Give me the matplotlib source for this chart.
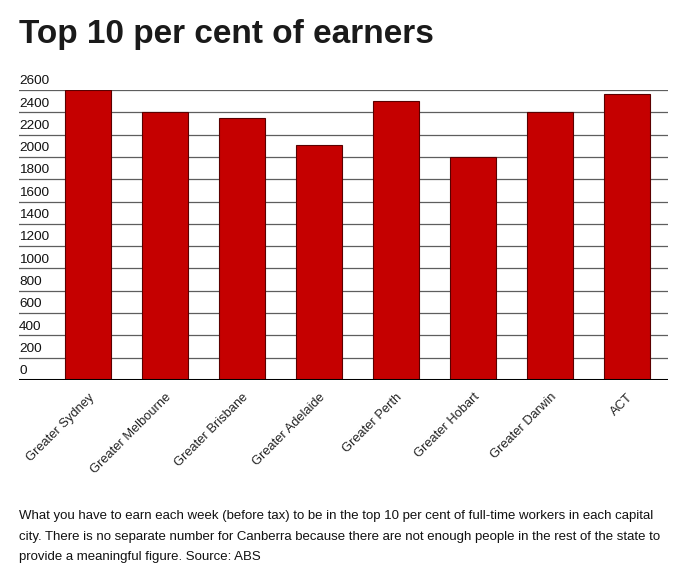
import numpy as np
import matplotlib
matplotlib.use("Agg")
import matplotlib.pyplot as plt
from matplotlib.transforms import blended_transform_factory

plt.rcParams['font.family'] = ['Liberation Sans', 'DejaVu Sans']

cities = ["Greater Sydney", "Greater Melbourne", "Greater Brisbane", "Greater Adelaide",
          "Greater Perth", "Greater Hobart", "Greater Darwin", "ACT"]
earnings = [2600, 2400, 2350, 2110, 2500, 2000, 2400, 2565]
y_ticks = list(range(0, 2601, 200))

W, H = 690, 578
fig = plt.figure(figsize=(W / 100, H / 100), dpi=100)
ax = fig.add_axes([19 / W, 1 - 380 / H, (668 - 19) / W, (380 - 90) / H])

x = np.arange(len(cities))
ax.bar(x, earnings, width=0.6, color='#c50000', edgecolor='#5a0000', linewidth=0.8, zorder=3)

for t in y_ticks:
    ax.axhline(t, color='#5e5e5e', linewidth=0.9, zorder=1)
ax.axhline(0, color='black', linewidth=2.2, zorder=4)

trans = blended_transform_factory(ax.transAxes, ax.transData)
for t in y_ticks:
    ax.text(0.0, t + 25, str(t), transform=trans, ha='left', va='bottom', fontsize=9.7, color='#111111')

ax.set_xlim(-0.9, 7.53)
ax.set_ylim(0, 2600)
ax.set_yticks([])
ax.set_xticks(x)
ax.set_xticklabels(cities, rotation=45, ha='right', rotation_mode='anchor', fontsize=9.3, color='#222222')
ax.tick_params(axis='x', length=0, pad=8)
for s in ax.spines.values():
    s.set_visible(False)

fig.text(19 / W, 1 - 43 / H, "Top 10 per cent of earners", fontsize=24, fontweight='bold',
         color='#1a1a1a', ha='left', va='baseline')

caption = ("What you have to earn each week (before tax) to be in the top 10 per cent of full-time workers in each capital\n"
           "city. There is no separate number for Canberra because there are not enough people in the rest of the state to\n"
           "provide a meaningful figure. Source: ABS")
fig.text(19 / W, 1 - 510 / H, caption, fontsize=9.5, color='#111111', ha='left', va='top', linespacing=1.95)

fig.savefig("out.png", dpi=100)
